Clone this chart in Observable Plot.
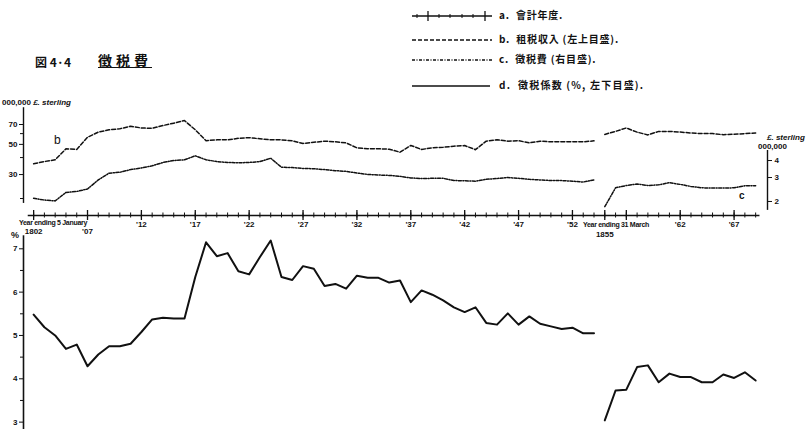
<!DOCTYPE html>
<html><head><meta charset="utf-8">
<script src="https://cdn.jsdelivr.net/npm/d3@7"></script>
<script src="https://cdn.jsdelivr.net/npm/@observablehq/plot@0.6"></script>
<style>
body{margin:0;background:#fff;}
#wrap{position:relative;width:812px;height:429px;overflow:hidden;font-family:"Liberation Sans",sans-serif;color:#111;background:#fff;}
.abs{position:absolute;white-space:nowrap;line-height:1;}
.cjk{font-family:"Noto Sans CJK JP",sans-serif;font-weight:bold;}
.tiny{font-size:7px;font-weight:bold;letter-spacing:-0.3px;}
#top,#bottom{position:absolute;left:0;}
#top{top:90px;} #bottom{top:230px;}
</style></head><body><div id="wrap">
<div id="top"></div><div id="bottom"></div>
<div class="abs cjk" style="left:35px;top:56px;font-size:12px;">図 4·4</div>
<div class="abs cjk" style="left:98px;top:53px;font-size:14px;text-decoration:underline;letter-spacing:4px;">徴税費</div>
<div class="abs" style="left:2px;top:99px;font-size:8px;font-weight:bold;">000,000 <i>£. sterling</i></div>
<div class="abs" style="left:54px;top:134px;font-size:12px;">b</div>
<div class="abs" style="left:739px;top:191px;font-size:10px;font-weight:bold;">c</div>
<div class="abs" style="left:767px;top:134px;font-size:8px;font-weight:bold;font-style:italic;">£. sterling</div>
<div class="abs" style="left:758px;top:143px;font-size:8px;font-weight:bold;">000,000</div>
<div class="abs" style="left:11px;top:231px;font-size:9px;font-weight:bold;">%</div>
<div class="abs tiny" style="left:19px;top:219px;">Year ending 5 January</div>
<div class="abs tiny" style="left:583px;top:221px;">Year ending 31 March</div>
<svg class="abs" style="left:405px;top:5px;" width="95" height="90">
  <g stroke="#111" fill="none">
    <line x1="7" y1="11" x2="87" y2="11" stroke-width="1.3"/>
    <line x1="23" y1="6" x2="23" y2="16" stroke-width="1.3"/>
    <line x1="80" y1="6" x2="80" y2="16" stroke-width="1.3"/>
    <line x1="34" y1="9" x2="34" y2="13"/><line x1="45" y1="9" x2="45" y2="13"/>
    <line x1="57" y1="9" x2="57" y2="13"/><line x1="68" y1="9" x2="68" y2="13"/>
    <line x1="12" y1="9" x2="12" y2="13"/>
    <line x1="7" y1="35" x2="87" y2="35" stroke-width="1.3" stroke-dasharray="4,2"/>
    <line x1="7" y1="55" x2="87" y2="55" stroke-width="1.3" stroke-dasharray="3,1.5,1,1.5"/>
    <line x1="7" y1="81" x2="85" y2="81" stroke-width="1.6"/>
  </g>
</svg>
<div class="abs cjk" style="left:499px;top:10px;font-size:10px;letter-spacing:0.8px;">a.&nbsp; 會計年度.</div>
<div class="abs cjk" style="left:499px;top:34px;font-size:10px;letter-spacing:0.8px;">b.&nbsp; 租税収入 (左上目盛).</div>
<div class="abs cjk" style="left:499px;top:54px;font-size:10px;letter-spacing:0.8px;">c.&nbsp; 徴税費 (右目盛).</div>
<div class="abs cjk" style="left:499px;top:80px;font-size:10px;letter-spacing:1.2px;">d.&nbsp; 徴税係数 (%, 左下目盛).</div>
</div>
<script>
// ---- data ----
const yearsA = [1802,1803,1804,1805,1806,1807,1808,1809,1810,1811,1812,1813,1814,1815,1816,1817,1818,1819,1820,1821,1822,1823,1824,1825,1826,1827,1828,1829,1830,1831,1832,1833,1834,1835,1836,1837,1838,1839,1840,1841,1842,1843,1844,1845,1846,1847,1848,1849,1850,1851,1852,1853,1854];
const yearsB = [1855,1856,1857,1858,1859,1860,1861,1862,1863,1864,1865,1866,1867,1868,1869];
// b. tax revenue (million £, left upper scale, log)
const revenueA = [36.0,37.4,38.5,46.4,45.9,56.4,61.5,64.0,65.1,68.0,66.0,65.6,68.8,71.6,74.8,64.0,53.2,54.0,54.0,55.4,56.0,55.0,54.0,54.0,53.1,50.8,51.8,52.8,52.2,51.3,47.1,46.4,46.4,46.1,43.8,49.1,45.9,47.2,47.6,48.5,49.0,45.7,52.8,54.0,52.8,53.2,51.3,52.8,52.2,52.2,52.2,52.2,53.1];
const revenueB = [59.2,62.3,66.0,61.5,58.7,62.3,62.3,61.6,60.6,60.0,60.0,58.9,59.4,60.0,60.6];
// c. cost of collection (million £, right scale, log)
const costA = [2.11,2.05,2.02,2.33,2.37,2.47,2.88,3.23,3.28,3.43,3.53,3.66,3.87,4.00,4.05,4.33,4.05,3.93,3.87,3.85,3.87,3.93,4.16,3.57,3.55,3.50,3.48,3.43,3.37,3.33,3.24,3.16,3.13,3.11,3.06,2.98,2.95,2.96,2.96,2.85,2.84,2.82,2.91,2.95,3.00,2.96,2.91,2.88,2.85,2.85,2.82,2.78,2.88];
const costB = [1.83,2.52,2.62,2.69,2.62,2.65,2.75,2.67,2.58,2.52,2.51,2.51,2.52,2.61,2.61];
// d. collection ratio (%, lower left scale)
const ratioA = [5.48,5.19,5.00,4.69,4.79,4.29,4.56,4.75,4.75,4.81,5.08,5.37,5.41,5.39,5.39,6.35,7.15,6.83,6.90,6.48,6.41,6.81,7.19,6.35,6.28,6.60,6.54,6.14,6.19,6.08,6.38,6.33,6.33,6.22,6.27,5.77,6.04,5.94,5.81,5.65,5.54,5.65,5.29,5.25,5.51,5.25,5.44,5.27,5.21,5.15,5.18,5.05,5.05];
const ratioB = [3.04,3.73,3.75,4.27,4.31,3.92,4.12,4.04,4.04,3.92,3.92,4.10,4.02,4.15,3.96];

// ticks and labels
const leftTicks = [30,50,70];
const leftMinorTicks = [20,40,60];
const rightTicks = [2,3,4];
const pctTicks = [3,4,5,6,7];
const pctMinorTicks = [3.5,4.5,5.5,6.5];
const minorYears = yearsA.concat(yearsB);
const majorYears = [1802,1807,1812,1817,1822,1827,1832,1837,1842,1847,1852,1855,1857,1862,1867];
const labelYears = [1812,1817,1822,1827,1832,1837,1842,1847,1852,1862,1867];
const labelTexts = ["'12","'17","'22","'27","'32","'37","'42","'47","'52","'62","'67"];
const lowLabelYears = [1802,1807];
const lowLabelTexts = ["1802","'07"];
const marchLabelYears = [1855];
const marchLabelTexts = ["1855"];

// ---- layout helpers ----
const K = 9.51; // c (right scale) placed on b's log grid
const xOpts = {domain:[1801.06,1870.1], axis:null};
const rows = (years, vals, seg) => years.map((y,i)=>({year:y, value:vals[i], seg}));
const bRows = rows(yearsA, revenueA, "A").concat(rows(yearsB, revenueB, "B"));
const cRows = rows(yearsA, costA, "A").concat(rows(yearsB, costB, "B"));
const dRows = rows(yearsA, ratioA, "A").concat(rows(yearsB, ratioB, "B"));
const font = {fontFamily:"Liberation Sans, sans-serif", fontWeight:"bold", fontSize:"8px", color:"#111", background:"transparent", overflow:"visible"};

const topPlot = Plot.plot({
  width:812, height:150, marginLeft:23, marginRight:45, marginTop:10, marginBottom:25,
  style: font,
  x: xOpts,
  y: {type:"log", domain:[15.0,105.1], axis:null},
  marks: [
    Plot.ruleX([1801.06], {y1:18.4, y2:93, stroke:"#111", strokeWidth:1.4}),
    Plot.axisY({anchor:"left", label:null, ticks:leftTicks, tickSize:4, tickPadding:2, tickFormat:d=>String(d), stroke:"#111"}),
    Plot.axisY({anchor:"left", label:null, ticks:leftMinorTicks, tickSize:3, tickFormat:()=>"", stroke:"#111"}),
    Plot.ruleX([1870.1], {y1:1.72*K, y2:4.74*K, stroke:"#111", strokeWidth:1.4}),
    Plot.axisY({anchor:"right", label:null, ticks:rightTicks.map(v=>v*K), tickSize:4, tickPadding:3, tickFormat:d=>String(Math.round(d/K)), stroke:"#111"}),
    Plot.ruleY([15.0], {x1:1801.5, x2:1869.4, stroke:"#111", strokeWidth:1.6}),
    Plot.axisX({anchor:"bottom", label:null, ticks:minorYears, tickSize:5, dy:-2.5, tickFormat:()=>"", stroke:"#111"}),
    Plot.axisX({anchor:"bottom", label:null, ticks:majorYears, tickSize:10, dy:-5, tickFormat:()=>"", stroke:"#111", strokeWidth:1.3}),
    Plot.text(labelYears, {x:d=>d, text:(d,i)=>labelTexts[i], frameAnchor:"bottom", dy:11, fill:"#111"}),
    Plot.text(lowLabelYears, {x:d=>d, text:(d,i)=>lowLabelTexts[i], frameAnchor:"bottom", dy:18, fill:"#111"}),
    Plot.text(marchLabelYears, {x:d=>d, text:(d,i)=>marchLabelTexts[i], frameAnchor:"bottom", dy:21, fill:"#111"}),
    Plot.line(bRows, {x:"year", y:"value", z:"seg", stroke:"#111", strokeWidth:1.5, strokeDasharray:"4,2"}),
    Plot.line(cRows, {x:"year", y:d=>d.value*K, z:"seg", stroke:"#111", strokeWidth:1.5, strokeDasharray:"3,1.5,1,1.5"})
  ]
});
document.getElementById("top").append(topPlot);

const bottomPlot = Plot.plot({
  width:812, height:199, marginLeft:23, marginRight:45, marginTop:5.3, marginBottom:0,
  style: font,
  x: xOpts,
  y: {domain:[2.83,7.3], axis:null},
  marks: [
    Plot.ruleX([1801.06], {y1:2.83, y2:7.3, stroke:"#111", strokeWidth:1.6}),
    Plot.axisY({anchor:"left", label:null, ticks:pctTicks, tickSize:4, tickPadding:2, tickFormat:d=>String(d), stroke:"#111"}),
    Plot.axisY({anchor:"left", label:null, ticks:pctMinorTicks, tickSize:3, tickFormat:()=>"", stroke:"#111"}),
    Plot.line(dRows, {x:"year", y:"value", z:"seg", stroke:"#111", strokeWidth:2})
  ]
});
document.getElementById("bottom").append(bottomPlot);
</script>
</body></html>
